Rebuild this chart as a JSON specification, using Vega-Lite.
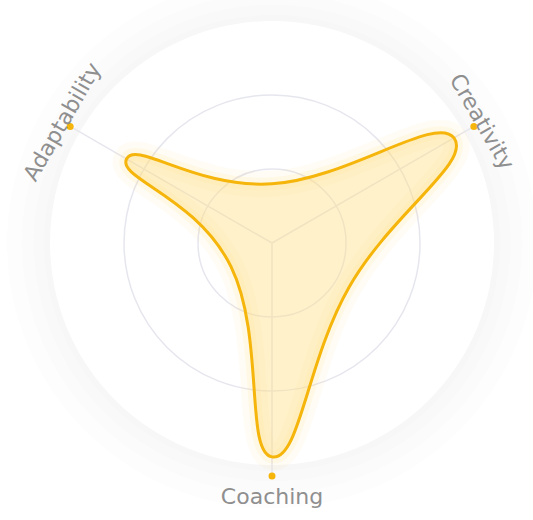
{
  "$schema": "https://vega.github.io/schema/vega-lite/v6.json",
  "width": 533,
  "height": 520,
  "autosize": {"type": "none"},
  "padding": 0,
  "background": "white",
  "view": {"stroke": null},
  "config": {"axis": {"disable": true}},
  "datasets": {
    "halo": [{"level": 3.08}, {"level": 3.22}, {"level": 3.38}, {"level": 3.58}],
    "disc": [{"level": 3}],
    "grid": [{"level": 1}, {"level": 2}],
    "axes": [
      {"axis": "Creativity", "angle": 30},
      {"axis": "Adaptability", "angle": 150},
      {"axis": "Coaching", "angle": 270}
    ],
    "shape": [
      {"axis": "Creativity", "angle": 30, "value": 2.84},
      {"axis": "", "angle": 90, "value": 0.8},
      {"axis": "Adaptability", "angle": 150, "value": 2.27},
      {"axis": "", "angle": 210, "value": 0.64},
      {"axis": "Coaching", "angle": 270, "value": 2.89},
      {"axis": "", "angle": 330, "value": 1.2}
    ]
  },
  "layer": [
    {
      "data": {"name": "halo"},
      "mark": {"type": "point", "shape": "circle", "filled": true, "color": "#EEEEF2", "opacity": 0.12, "strokeWidth": 0},
      "encoding": {
        "x": {"datum": 0, "type": "quantitative", "scale": {"domain": [-3.676, 3.527], "nice": false, "zero": false}},
        "y": {"datum": 0, "type": "quantitative", "scale": {"domain": [-3.743, 3.284], "nice": false, "zero": false}},
        "size": {"field": "level", "type": "quantitative", "scale": {"type": "pow", "exponent": 2, "domain": [0, 3], "range": [0, 197136]}, "legend": null}
      }
    },
    {
      "data": {"name": "disc"},
      "mark": {"type": "point", "shape": "circle", "filled": true, "color": "#FFFFFF", "opacity": 1, "strokeWidth": 0},
      "encoding": {
        "x": {"datum": 0, "type": "quantitative"},
        "y": {"datum": 0, "type": "quantitative"},
        "size": {"field": "level", "type": "quantitative", "legend": null}
      }
    },
    {
      "data": {"name": "grid"},
      "mark": {"type": "point", "shape": "circle", "filled": false, "color": "#E6E6EE", "opacity": 1, "strokeWidth": 1.5},
      "encoding": {
        "x": {"datum": 0, "type": "quantitative"},
        "y": {"datum": 0, "type": "quantitative"},
        "size": {"field": "level", "type": "quantitative", "legend": null}
      }
    },
    {
      "data": {"name": "axes"},
      "transform": [
        {"calculate": "3.15*cos(datum.angle*PI/180)", "as": "ex"},
        {"calculate": "3.15*sin(datum.angle*PI/180)", "as": "ey"}
      ],
      "mark": {"type": "rule", "color": "#E6E6EE", "strokeWidth": 1.5},
      "encoding": {
        "x": {"field": "ex", "type": "quantitative"},
        "y": {"field": "ey", "type": "quantitative"},
        "x2": {"datum": 0},
        "y2": {"datum": 0}
      }
    },
    {
      "data": {"name": "shape"},
      "transform": [
        {"calculate": "datum.value*cos(datum.angle*PI/180)", "as": "x"},
        {"calculate": "datum.value*sin(datum.angle*PI/180)", "as": "y"}
      ],
      "mark": {"type": "line", "interpolate": "cardinal-closed", "tension": -0.4, "color": "#FFD34D", "strokeWidth": 26, "opacity": 0.06},
      "encoding": {
        "x": {"field": "x", "type": "quantitative"},
        "y": {"field": "y", "type": "quantitative"},
        "order": {"field": "angle", "type": "quantitative"}
      }
    },
    {
      "data": {"name": "shape"},
      "transform": [
        {"calculate": "datum.value*cos(datum.angle*PI/180)", "as": "x"},
        {"calculate": "datum.value*sin(datum.angle*PI/180)", "as": "y"}
      ],
      "mark": {"type": "line", "interpolate": "cardinal-closed", "tension": -0.4, "color": "#FFD34D", "strokeWidth": 13, "opacity": 0.09},
      "encoding": {
        "x": {"field": "x", "type": "quantitative"},
        "y": {"field": "y", "type": "quantitative"},
        "order": {"field": "angle", "type": "quantitative"}
      }
    },
    {
      "data": {"name": "shape"},
      "transform": [
        {"calculate": "datum.value*cos(datum.angle*PI/180)", "as": "x"},
        {"calculate": "datum.value*sin(datum.angle*PI/180)", "as": "y"}
      ],
      "mark": {"type": "line", "interpolate": "cardinal-closed", "tension": -0.4, "fill": "#FFE08A", "fillOpacity": 0.45, "stroke": "#F5B50A", "strokeWidth": 3},
      "encoding": {
        "x": {"field": "x", "type": "quantitative"},
        "y": {"field": "y", "type": "quantitative"},
        "order": {"field": "angle", "type": "quantitative"}
      }
    },
    {
      "data": {"name": "axes"},
      "transform": [
        {"calculate": "3.15*cos(datum.angle*PI/180)", "as": "ex"},
        {"calculate": "3.15*sin(datum.angle*PI/180)", "as": "ey"}
      ],
      "mark": {"type": "point", "shape": "circle", "filled": true, "color": "#F5B50A", "opacity": 1, "size": 49},
      "encoding": {
        "x": {"field": "ex", "type": "quantitative"},
        "y": {"field": "ey", "type": "quantitative"}
      }
    },
    {
      "data": {"name": "axes"},
      "transform": [
        {"filter": "datum.angle < 180"},
        {"calculate": "3.15*cos(datum.angle*PI/180)", "as": "ex"},
        {"calculate": "3.15*sin(datum.angle*PI/180)", "as": "ey"},
        {"calculate": "90 - datum.angle", "as": "rot"}
      ],
      "mark": {"type": "text", "font": "DejaVu Sans", "fontSize": 22, "color": "#8F8F8F", "align": "center", "baseline": "middle", "dy": -9},
      "encoding": {
        "x": {"field": "ex", "type": "quantitative"},
        "y": {"field": "ey", "type": "quantitative"},
        "text": {"field": "axis"},
        "angle": {"field": "rot", "type": "quantitative", "scale": null}
      }
    },
    {
      "data": {"name": "axes"},
      "transform": [
        {"filter": "datum.angle >= 180"},
        {"calculate": "3.15*cos(datum.angle*PI/180)", "as": "ex"},
        {"calculate": "3.15*sin(datum.angle*PI/180)", "as": "ey"}
      ],
      "mark": {"type": "text", "font": "DejaVu Sans", "fontSize": 22, "color": "#8F8F8F", "align": "center", "baseline": "middle", "dy": 21},
      "encoding": {
        "x": {"field": "ex", "type": "quantitative"},
        "y": {"field": "ey", "type": "quantitative"},
        "text": {"field": "axis"}
      }
    }
  ]
}
